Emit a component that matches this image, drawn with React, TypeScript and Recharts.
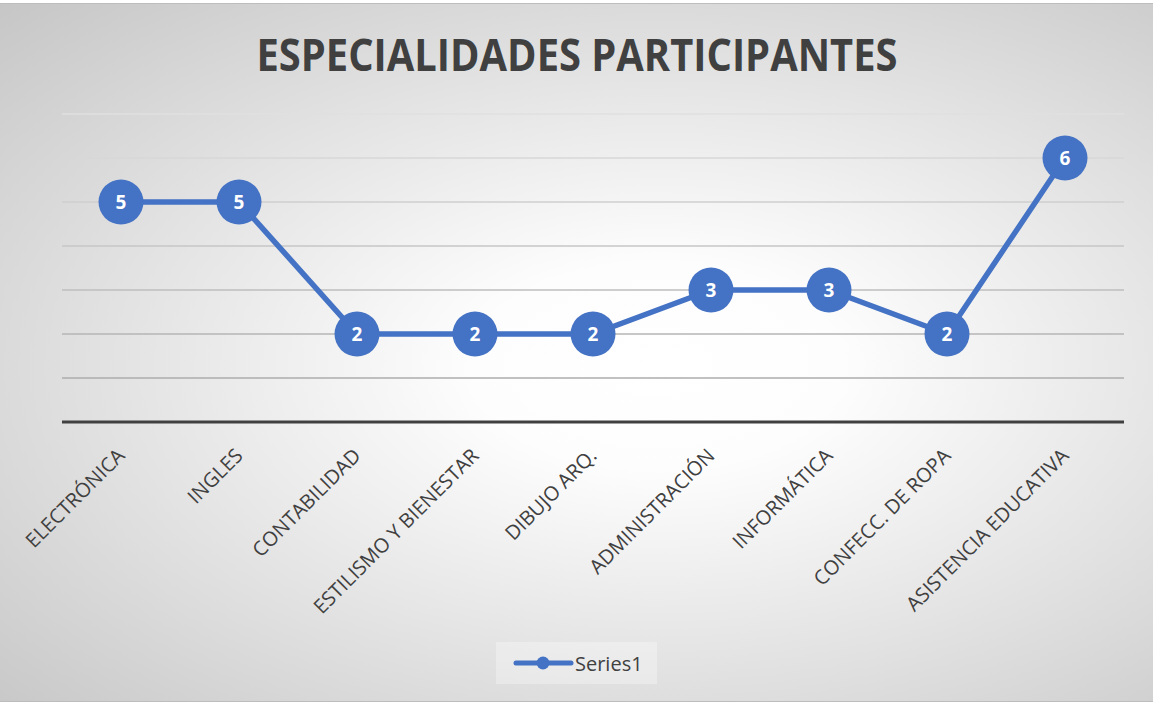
import React from "react";
import { LineChart, Line, XAxis, YAxis, CartesianGrid, LabelList } from "recharts";

const categories = [
  "ELECTRÓNICA",
  "INGLES",
  "CONTABILIDAD",
  "ESTILISMO Y BIENESTAR",
  "DIBUJO ARQ.",
  "ADMINISTRACIÓN",
  "INFORMÁTICA",
  "CONFECC. DE ROPA",
  "ASISTENCIA EDUCATIVA",
];
const values = [5, 5, 2, 2, 2, 3, 3, 2, 6];
const yTicks = [0, 1, 2, 3, 4, 5, 6, 7];
const seriesName = "Series1";
const title = "ESPECIALIDADES PARTICIPANTES";

const data = categories.map((c, i) => ({ name: c, v: values[i] }));

const BLUE = "#4472C4";
const FONT = "'Open Sans', 'Noto Sans', sans-serif";

const Tick = (props: any) => {
  const { x, y, payload } = props;
  const tx = x + 5;
  const ty = y + 27;
  return (
    <text
      x={tx}
      y={ty}
      textAnchor="end"
      fill="#404040"
      fontSize={20}
      fontFamily={FONT}
      transform={`rotate(-45, ${tx}, ${ty})`}
    >
      {payload.value}
    </text>
  );
};

export default function App() {
  return (
    <div
      style={{
        position: "absolute",
        left: 0,
        top: 3,
        width: 1153,
        height: 699,
        borderTop: "1px solid #bdbdbd",
        borderBottom: "1px solid #bdbdbd",
        boxSizing: "border-box",
        background:
          "radial-gradient(ellipse farthest-corner at 57% 52%, #ffffff 0%, #fdfdfd 20%, #c6c6c6 100%)",
        overflow: "hidden",
      }}
    >
      <svg width={1153} height={100} style={{ position: "absolute", left: 0, top: 0 }}>
        <text
          x={577}
          y={67}
          textAnchor="middle"
          fontFamily={FONT}
          fontWeight={700}
          fontSize={44}
          fill="#404040"
          textLength={641}
          lengthAdjust="spacingAndGlyphs"
        >
          {title}
        </text>
      </svg>
      <div style={{ position: "absolute", left: 0, top: -1 }}>
        <LineChart
          width={1153}
          height={699}
          data={data}
          margin={{ top: 111, right: 29, left: 62, bottom: 80 }}
        >
          <defs>
            <linearGradient id="gridGrad" gradientUnits="userSpaceOnUse" x1={0} y1={111} x2={0} y2={419}>
              <stop offset="0%" stopColor="#e0e0e0" />
              <stop offset="100%" stopColor="#a4a4a4" />
            </linearGradient>
          </defs>
          <CartesianGrid vertical={false} stroke="url(#gridGrad)" strokeWidth={1.5} />
          <YAxis hide domain={[0, 7]} ticks={yTicks} type="number" />
          <XAxis
            dataKey="name"
            interval={0}
            height={200}
            padding={{ left: 59, right: 59 }}
            axisLine={{ stroke: "#404040", strokeWidth: 3 }}
            tickLine={false}
            tick={<Tick />}
          />
          <Line
            dataKey="v"
            name={seriesName}
            stroke={BLUE}
            strokeWidth={5.5}
            isAnimationActive={false}
            dot={{ r: 22.5, fill: BLUE, stroke: BLUE, strokeWidth: 0 }}
            activeDot={false}
          >
            <LabelList
              dataKey="v"
              position="center"
              fill="#ffffff"
              fontSize={19}
              fontWeight={700}
              fontFamily={FONT}
            />
          </Line>
        </LineChart>
      </div>
      <svg width={1153} height={699} style={{ position: "absolute", left: 0, top: 0, pointerEvents: "none" }}>
        <rect x={496} y={638} width={161} height={42} fill="#ffffff" fillOpacity={0.3} />
        <line x1={516} y1={659} x2={571} y2={659} stroke={BLUE} strokeWidth={5} strokeLinecap="round" />
        <circle cx={543} cy={659} r={6.5} fill={BLUE} />
        <text x={575} y={667} fontFamily={FONT} fontSize={20} fill="#404040">
          {seriesName}
        </text>
      </svg>
    </div>
  );
}
